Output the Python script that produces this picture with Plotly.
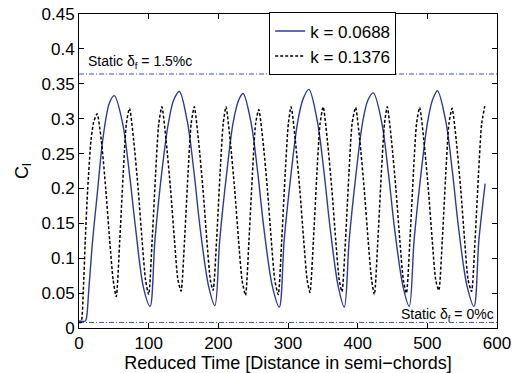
import plotly.graph_objects as go

# k = 0.0688 (solid blue) : reduced time, Cl
t_k1 = [0, 9, 11, 14, 19.6, 26.8, 34, 43.5, 50.7,
        62.7, 72.3, 81, 92.3, 102,
        109, 118.7, 128.2, 136, 144, 155.5, 165, 174, 186, 195,
        202, 212, 221, 229, 235.5, 247, 256.5, 265.5, 277.5, 287.5,
        294.5, 304.5, 313.5, 321.5, 330, 342, 351.5, 360.5, 372, 380.8,
        387.8, 397.8, 406.8, 414.5, 422.5, 434.5, 444, 453, 465, 474,
        481, 491, 500, 507.5, 514.5, 526.5, 536, 545, 557, 567,
        574, 583]
cl_k1 = [0.010, 0.010, 0.016, 0.054, 0.126, 0.198, 0.269, 0.322, 0.333,
         0.293, 0.222, 0.145, 0.059, 0.031,
         0.126, 0.222, 0.293, 0.327, 0.339, 0.296, 0.224, 0.142, 0.060, 0.032,
         0.126, 0.222, 0.293, 0.326, 0.336, 0.294, 0.223, 0.142, 0.060, 0.030,
         0.126, 0.222, 0.293, 0.328, 0.342, 0.297, 0.225, 0.143, 0.060, 0.030,
         0.126, 0.222, 0.293, 0.326, 0.337, 0.295, 0.223, 0.142, 0.060, 0.031,
         0.126, 0.222, 0.293, 0.327, 0.340, 0.296, 0.224, 0.142, 0.060, 0.031,
         0.126, 0.207]

# k = 0.1376 (dotted black)
t_k2 = [0, 3, 6.2, 9, 12.4, 17.2, 21, 26,
        32, 38.5, 44, 49, 53.5,
        58.5, 63.5, 68, 72.5, 78.5, 85, 90.5, 95.5, 100,
        105, 110, 114.5, 119, 125, 131.5, 137, 142, 146.5,
        151.5, 156.5, 161, 165.5, 171.5, 178, 183.5, 188.5, 192.5,
        197.5, 202.5, 207, 211, 217, 223.5, 229, 234, 239,
        244, 249, 253.5, 258, 264, 270.5, 276, 281, 286,
        291, 296, 300.5, 304.5, 310.5, 317, 322.5, 327.5, 331.5,
        336.5, 341.5, 346, 350.5, 356.5, 363, 368.5, 373.5, 377.5,
        382.5, 387.5, 392, 397, 403, 409.5, 415, 420, 424,
        429, 434, 438.5, 442.5, 448.5, 455, 460.5, 465.5, 470,
        475, 480, 484.5, 489, 495, 501.5, 507, 512, 516.5,
        521.5, 526.5, 531, 535.5, 541.5, 548, 553.5, 558.5, 563.5,
        568.5, 573.5, 578, 582.5]
cl_k2 = [0.008, 0.008, 0.054, 0.126, 0.198, 0.269, 0.295, 0.307,
         0.269, 0.198, 0.126, 0.069, 0.045,
         0.126, 0.222, 0.293, 0.315, 0.269, 0.198, 0.126, 0.069, 0.048,
         0.126, 0.222, 0.293, 0.317, 0.269, 0.198, 0.126, 0.069, 0.053,
         0.126, 0.222, 0.293, 0.317, 0.269, 0.198, 0.126, 0.069, 0.054,
         0.126, 0.222, 0.293, 0.317, 0.269, 0.198, 0.126, 0.069, 0.047,
         0.126, 0.222, 0.293, 0.313, 0.269, 0.198, 0.126, 0.069, 0.048,
         0.126, 0.222, 0.293, 0.317, 0.269, 0.198, 0.126, 0.069, 0.051,
         0.126, 0.222, 0.293, 0.317, 0.269, 0.198, 0.126, 0.069, 0.052,
         0.126, 0.222, 0.293, 0.316, 0.269, 0.198, 0.126, 0.069, 0.048,
         0.126, 0.222, 0.293, 0.317, 0.269, 0.198, 0.126, 0.069, 0.050,
         0.126, 0.222, 0.293, 0.316, 0.269, 0.198, 0.126, 0.069, 0.054,
         0.126, 0.222, 0.293, 0.315, 0.269, 0.198, 0.126, 0.069, 0.0525,
         0.126, 0.222, 0.293, 0.318]

# static reference levels
static_x = [0, 600]
static_15 = 0.364   # Static delta_f = 1.5%c
static_0 = 0.008    # Static delta_f = 0%c

x_ticks = [0, 100, 200, 300, 400, 500, 600]
y_ticks = [0, 0.05, 0.1, 0.15, 0.2, 0.25, 0.3, 0.35, 0.4, 0.45]
y_tick_text = ["0", "0.05", "0.1", "0.15", "0.2", "0.25", "0.3", "0.35", "0.4", "0.45"]

FONT = "Liberation Sans, Arial, sans-serif"
BLUE = "#2e3a9a"
REF = "#3a4cc0"

fig = go.Figure()
fig.add_trace(go.Scatter(x=static_x, y=[static_15, static_15], mode="lines",
                         line=dict(color=REF, width=1, dash="5px,2px,1px,2px"),
                         showlegend=False, hoverinfo="skip"))
fig.add_trace(go.Scatter(x=static_x, y=[static_0, static_0], mode="lines",
                         line=dict(color=REF, width=1, dash="5px,2px,1px,2px"),
                         showlegend=False, hoverinfo="skip"))
fig.add_trace(go.Scatter(x=t_k1, y=cl_k1, mode="lines", name="k = 0.0688",
                         line=dict(color=BLUE, width=1.4, shape="spline", smoothing=0.9)))
fig.add_trace(go.Scatter(x=t_k2, y=cl_k2, mode="lines", name="k = 0.1376",
                         line=dict(color="black", width=1.5, dash="3px,2px",
                                   shape="spline", smoothing=0.6)))

fig.add_annotation(x=10, y=static_15, xref="x", yref="y", text="Static δ<sub>f</sub> = 1.5%c",
                   showarrow=False, xanchor="left", yanchor="bottom", yshift=1,
                   font=dict(family=FONT, size=14, color="black"))
fig.add_annotation(x=599, y=static_0, xref="x", yref="y", text="Static δ<sub>f</sub> = 0%c",
                   showarrow=False, xanchor="right", yanchor="bottom", yshift=-4,
                   font=dict(family=FONT, size=14, color="black"))

axis_common = dict(showline=True, linecolor="black", linewidth=1, mirror="ticks",
                   ticks="inside", ticklen=5, tickcolor="black", showgrid=False,
                   zeroline=False, automargin=False,
                   tickfont=dict(family=FONT, size=17, color="black"))

fig.update_xaxes(range=[0, 600], tickvals=x_ticks, ticktext=[str(v) for v in x_ticks],
                 title=dict(text="Reduced Time [Distance in semi−chords]",
                            font=dict(family=FONT, size=18, color="black"), standoff=9),
                 **axis_common)
fig.update_yaxes(range=[0, 0.45], tickvals=y_ticks, ticktext=y_tick_text,
                 title=dict(text="C<sub>l</sub>", font=dict(family=FONT, size=18, color="black"),
                            standoff=8),
                 **axis_common)

fig.update_layout(
    width=524, height=373,
    margin=dict(l=79, r=27, t=14, b=45, autoexpand=False),
    paper_bgcolor="white", plot_bgcolor="white",
    font=dict(family=FONT, size=17, color="black"),
    legend=dict(x=0.455, y=1.005, xanchor="left", yanchor="top",
                bgcolor="white", bordercolor="black", borderwidth=1,
                font=dict(family=FONT, size=17, color="black"),
                tracegroupgap=0, itemwidth=30),
    showlegend=True,
)

fig.write_html("out.html")
